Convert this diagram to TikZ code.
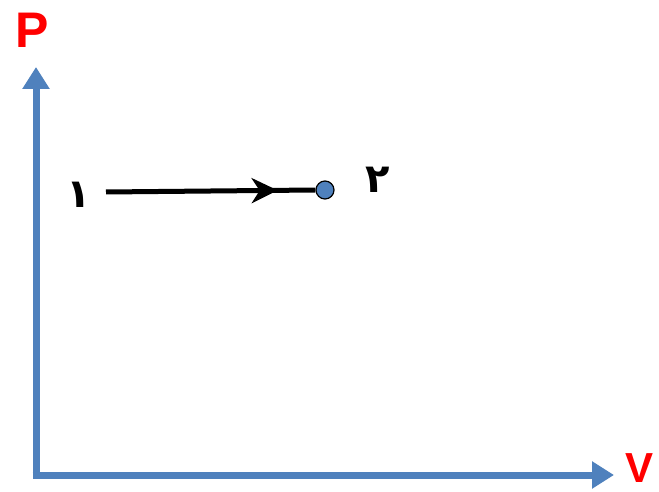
\documentclass[tikz,border=0pt]{standalone}
\usepackage{fontspec}
\setmainfont{Liberation Sans}
\newfontfamily\arabicfont[Script=Arabic]{DejaVu Sans}
\TeXXeTstate=1
\usetikzlibrary{arrows.meta,decorations.markings}
\definecolor{axisblue}{HTML}{4F81BD}
\tikzset{
  axis/.style={draw=axisblue,line width=7pt,-{Triangle[width=26pt,length=22pt]}},
  axlabel/.style={text=red,font=\bfseries},
  proc/.style={draw=black,line width=5pt,postaction={decorate},
    decoration={markings,mark=at position 0.82 with {\arrow{Stealth[length=26pt,width=25pt,inset=8pt]}}}},
  statept/.style={circle,draw=black,line width=1.2pt,fill=axisblue,minimum size=18pt,inner sep=0pt},
  digit/.style={font=\arabicfont\bfseries\fontsize{40}{40}\selectfont}
}
\begin{document}
\begin{tikzpicture}[x=1pt,y=-1pt]
\useasboundingbox (0,0) rectangle (659,492);
\coordinate (o) at (36,475);
\coordinate (ytop) at (36,67);
\coordinate (xend) at (614,475);
\draw[axis] (o) -- (ytop);
\draw[axis] ([xshift=-3.5pt]o) -- (xend);
\node[axlabel,font=\bfseries\fontsize{50}{50}\selectfont] (P) at (32,30) {P};
\node[axlabel,font=\bfseries\fontsize{42}{42}\selectfont] (V) at (640,468) {V};
\coordinate (s) at (106,192);
\node[statept] (e) at (325,190) {};
\draw[proc] (s) -- (e.west);
\node[digit] (n1) at (79,195) {\beginR ۱\endR};
\node[digit] (n2) at (378,180) {\beginR ۲\endR};
\end{tikzpicture}
\end{document}
